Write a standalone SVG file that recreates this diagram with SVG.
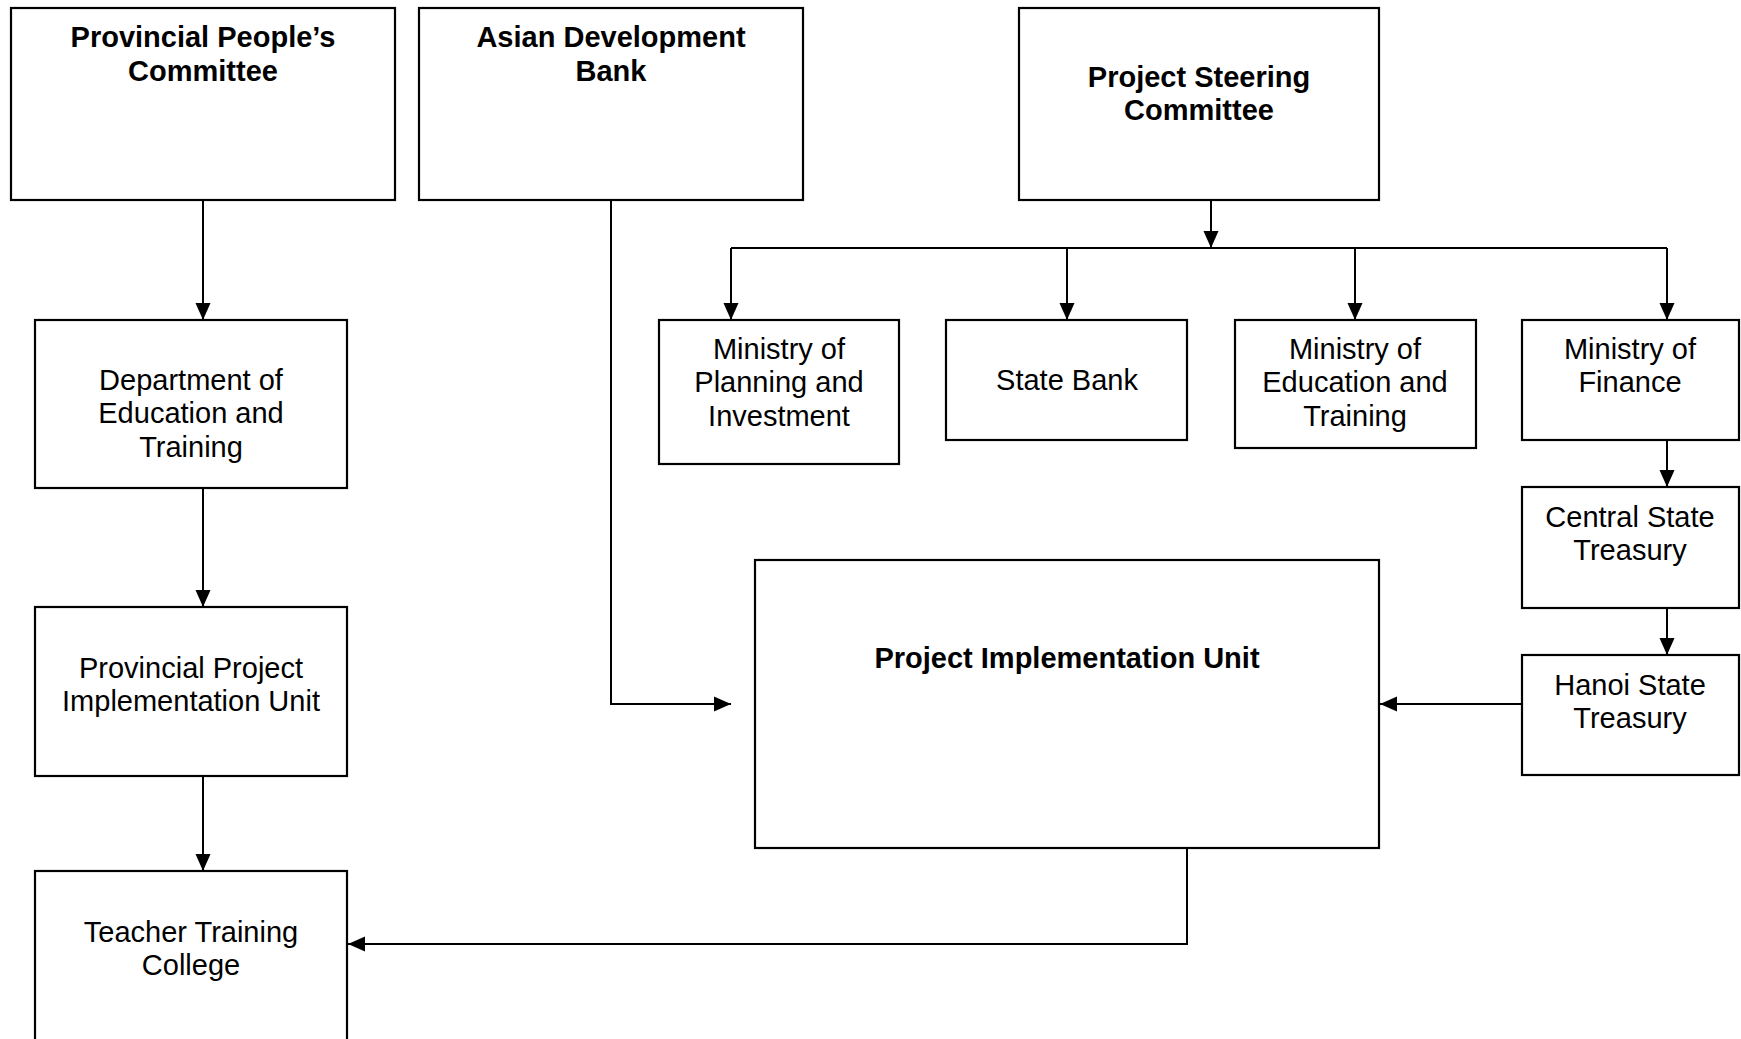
<svg xmlns="http://www.w3.org/2000/svg" width="1741" height="1039" viewBox="0 0 1741 1039">
<style>
.box{fill:#fff;stroke:#000;stroke-width:2.2}
.t{font-family:"Liberation Sans",Arial,sans-serif;font-size:29px;fill:#000;text-anchor:middle}
.b{font-weight:bold}
.c{fill:none;stroke:#000;stroke-width:2}
</style>
<defs>
<marker id="ah" markerUnits="userSpaceOnUse" markerWidth="18" markerHeight="16" refX="17" refY="8" orient="auto">
<path d="M0,0.5 L17,8 L0,15.5 z" fill="#000"/>
</marker>
</defs>
<rect width="1741" height="1039" fill="#fff"/>
<g id="connectors">
<path class="c" d="M203,200 V320" marker-end="url(#ah)"/>
<path class="c" d="M203,488 V607" marker-end="url(#ah)"/>
<path class="c" d="M203,776 V871" marker-end="url(#ah)"/>
<path class="c" d="M611,200 V704 H731" marker-end="url(#ah)"/>
<path class="c" d="M1211,200 V248" marker-end="url(#ah)"/>
<path class="c" d="M731,248 H1667"/>
<path class="c" d="M731,248 V320" marker-end="url(#ah)"/>
<path class="c" d="M1067,248 V320" marker-end="url(#ah)"/>
<path class="c" d="M1355,248 V320" marker-end="url(#ah)"/>
<path class="c" d="M1667,248 V320" marker-end="url(#ah)"/>
<path class="c" d="M1667,440 V487" marker-end="url(#ah)"/>
<path class="c" d="M1667,608 V655" marker-end="url(#ah)"/>
<path class="c" d="M1522,704 H1380" marker-end="url(#ah)"/>
<path class="c" d="M1187,848 V944 H348" marker-end="url(#ah)"/>
</g>
<g id="ppc"><rect class="box" x="11" y="8" width="384" height="192"/>
<text class="t b" x="203" y="47">Provincial People’s</text><text class="t b" x="203" y="81">Committee</text></g>
<g id="adb"><rect class="box" x="419" y="8" width="384" height="192"/>
<text class="t b" x="611" y="47">Asian Development</text><text class="t b" x="611" y="81">Bank</text></g>
<g id="psc"><rect class="box" x="1019" y="8" width="360" height="192"/>
<text class="t b" x="1199" y="86.5">Project Steering</text><text class="t b" x="1199" y="120">Committee</text></g>
<g id="mpi"><rect class="box" x="659" y="320" width="240" height="144"/>
<text class="t" x="779" y="359">Ministry of</text><text class="t" x="779" y="392.3">Planning and</text><text class="t" x="779" y="425.6">Investment</text></g>
<g id="sb"><rect class="box" x="946" y="320" width="241" height="120"/>
<text class="t" x="1067" y="390">State Bank</text></g>
<g id="met"><rect class="box" x="1235" y="320" width="241" height="128"/>
<text class="t" x="1355" y="359">Ministry of</text><text class="t" x="1355" y="392.3">Education and</text><text class="t" x="1355" y="425.6">Training</text></g>
<g id="mf"><rect class="box" x="1522" y="320" width="217" height="120"/>
<text class="t" x="1630" y="359">Ministry of</text><text class="t" x="1630" y="392.3">Finance</text></g>
<g id="cst"><rect class="box" x="1522" y="487" width="217" height="121"/>
<text class="t" x="1630" y="527">Central State</text><text class="t" x="1630" y="560.3">Treasury</text></g>
<g id="hst"><rect class="box" x="1522" y="655" width="217" height="120"/>
<text class="t" x="1630" y="695">Hanoi State</text><text class="t" x="1630" y="728.3">Treasury</text></g>
<g id="piu"><rect class="box" x="755" y="560" width="624" height="288"/>
<text class="t b" x="1067" y="667.5">Project Implementation Unit</text></g>
<g id="det"><rect class="box" x="35" y="320" width="312" height="168"/>
<text class="t" x="191" y="390">Department of</text><text class="t" x="191" y="423.3">Education and</text><text class="t" x="191" y="456.6">Training</text></g>
<g id="ppiu"><rect class="box" x="35" y="607" width="312" height="169"/>
<text class="t" x="191" y="677.5">Provincial Project</text><text class="t" x="191" y="710.8">Implementation Unit</text></g>
<g id="ttc"><rect class="box" x="35" y="871" width="312" height="190"/>
<text class="t" x="191" y="942">Teacher Training</text><text class="t" x="191" y="975.3">College</text></g>
</svg>
